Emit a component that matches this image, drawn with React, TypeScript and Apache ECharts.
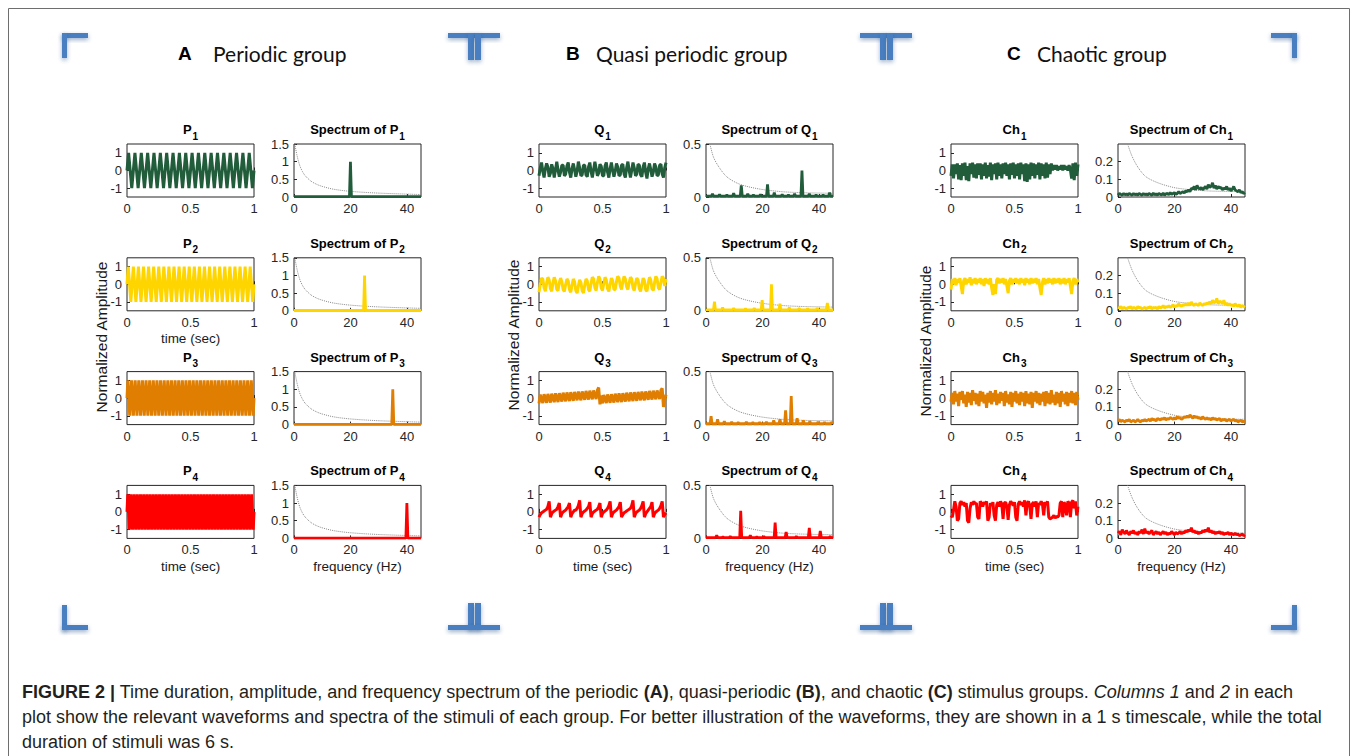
import React, { useEffect, useRef } from "react";
import * as echarts from "echarts";

// ---------------- data ----------------
const GROUP_LETTERS = ["A", "B", "C"];
const GROUP_NAMES = ["Periodic group", "Quasi periodic group", "Chaotic group"];
const SIGNAL_PREFIX = ["P", "Q", "Ch"];
const ROW_COLORS = ["#215c3b", "#ffd500", "#df7e00", "#ff0000"];

const WAVE_X_TICKS = [0, 0.5, 1];
const WAVE_Y_TICKS = [-1, 0, 1];
const WAVE_Y_RANGE = [-1.5, 1.5];
const SPEC_X_TICKS = [0, 20, 40];
const SPEC_X_MAX = 45;
const SPEC_Y_TICKS = [[0, 0.5, 1, 1.5], [0, 0.5], [0, 0.1, 0.2]];
const SPEC_Y_MAX = [1.5, 0.5, 0.3];

const X_LABEL_TIME = "time (sec)";
const X_LABEL_FREQ = "frequency (Hz)";
const Y_LABEL = "Normalized Amplitude";

// periodic waveforms (quarter-period samples over 1 s)
const P1_WAVE = [
  0,1,0,-1,0,1,0,-1,0,1,0,-1,0,1,0,-1,0,1,0,-1,
  0,1,0,-1,0,1,0,-1,0,1,0,-1,0,1,0,-1,0,1,0,-1,
  0,1,0,-1,0,1,0,-1,0,1,0,-1,0,1,0,-1,0,1,0,-1,
  0,1,0,-1,0,1,0,-1,0,1,0,-1,0,1,0,-1,0,1,0,-1,
  0];
const P2_WAVE = [
  0,1,0,-1,0,1,0,-1,0,1,0,-1,0,1,0,-1,0,1,0,-1,
  0,1,0,-1,0,1,0,-1,0,1,0,-1,0,1,0,-1,0,1,0,-1,
  0,1,0,-1,0,1,0,-1,0,1,0,-1,0,1,0,-1,0,1,0,-1,
  0,1,0,-1,0,1,0,-1,0,1,0,-1,0,1,0,-1,0,1,0,-1,
  0,1,0,-1,0,1,0,-1,0,1,0,-1,0,1,0,-1,0,1,0,-1,
  0];
const P3_WAVE = [
  0,1,0,-1,0,1,0,-1,0,1,0,-1,0,1,0,-1,0,1,0,-1,
  0,1,0,-1,0,1,0,-1,0,1,0,-1,0,1,0,-1,0,1,0,-1,
  0,1,0,-1,0,1,0,-1,0,1,0,-1,0,1,0,-1,0,1,0,-1,
  0,1,0,-1,0,1,0,-1,0,1,0,-1,0,1,0,-1,0,1,0,-1,
  0,1,0,-1,0,1,0,-1,0,1,0,-1,0,1,0,-1,0,1,0,-1,
  0,1,0,-1,0,1,0,-1,0,1,0,-1,0,1,0,-1,0,1,0,-1,
  0,1,0,-1,0,1,0,-1,0,1,0,-1,0,1,0,-1,0,1,0,-1,
  0];
const P4_WAVE = [
  0,1,0,-1,0,1,0,-1,0,1,0,-1,0,1,0,-1,0,1,0,-1,
  0,1,0,-1,0,1,0,-1,0,1,0,-1,0,1,0,-1,0,1,0,-1,
  0,1,0,-1,0,1,0,-1,0,1,0,-1,0,1,0,-1,0,1,0,-1,
  0,1,0,-1,0,1,0,-1,0,1,0,-1,0,1,0,-1,0,1,0,-1,
  0,1,0,-1,0,1,0,-1,0,1,0,-1,0,1,0,-1,0,1,0,-1,
  0,1,0,-1,0,1,0,-1,0,1,0,-1,0,1,0,-1,0,1,0,-1,
  0,1,0,-1,0,1,0,-1,0,1,0,-1,0,1,0,-1,0,1,0,-1,
  0,1,0,-1,0,1,0,-1,0,1,0,-1,0,1,0,-1,0,1,0,-1,
  0];

// quasi-periodic waveforms (samples every 10 ms)
const Q1_WAVE = [-0.3,0.15,0.45,-0.05,-0.4,0.1,0.4,0.2,-0.35,-0.15,0.35,0.1,-0.4,0.05,0.5,0.0,-0.35,-0.1,0.3,0.3,
  -0.3,-0.2,0.25,0.45,-0.1,-0.4,0.1,0.4,0.05,-0.35,-0.05,0.5,0.15,-0.3,-0.25,0.3,0.3,-0.25,-0.35,0.2,
  0.45,-0.05,-0.4,0.05,0.5,0.1,-0.3,-0.15,0.35,0.25,-0.3,-0.3,0.25,0.45,-0.1,-0.4,0.1,0.45,0.0,-0.35,
  -0.05,0.4,0.2,-0.3,-0.25,0.3,0.35,-0.2,-0.4,0.15,0.5,0.0,-0.4,0.0,0.45,0.15,-0.3,-0.2,0.35,0.3,
  -0.25,-0.35,0.2,0.45,-0.1,-0.45,0.1,0.4,0.05,-0.35,-0.1,0.4,0.2,-0.3,-0.25,0.3,0.35,-0.2,-0.4,0.15,0.45];
const Q2_WAVE = [-0.45,0.0,0.35,0.3,-0.2,-0.4,0.05,0.4,0.25,-0.25,-0.4,0.1,0.4,0.2,-0.3,-0.35,0.1,0.35,0.15,-0.3,
  -0.4,0.0,0.3,0.2,-0.3,-0.45,-0.05,0.3,0.15,-0.35,-0.5,-0.1,0.25,0.1,-0.35,-0.5,-0.05,0.3,0.2,-0.3,
  -0.4,0.05,0.4,0.3,-0.2,-0.35,0.1,0.45,0.3,-0.2,-0.35,0.05,0.4,0.25,-0.25,-0.4,0.0,0.35,0.2,-0.3,
  -0.3,0.15,0.45,0.35,-0.1,-0.3,0.15,0.45,0.3,-0.15,-0.3,0.1,0.4,0.3,-0.2,-0.35,0.05,0.35,0.25,-0.25,
  -0.4,0.0,0.35,0.2,-0.3,-0.4,0.05,0.4,0.25,-0.25,-0.35,0.1,0.45,0.3,-0.2,-0.3,0.1,0.45,0.35,-0.1,0.3];
const Q3_WAVE = [-0.3,0.2,-0.05,-0.28,0.22,0.0,-0.27,0.23,0.0,-0.25,0.25,0.02,-0.23,0.27,0.03,-0.22,0.28,0.05,-0.2,0.3,
  0.06,-0.18,0.32,0.08,-0.17,0.33,0.1,-0.15,0.35,0.11,-0.13,0.37,0.12,-0.12,0.38,0.14,-0.1,0.4,0.15,-0.08,
  0.42,0.17,-0.07,0.43,0.18,-0.05,0.45,0.6,-0.35,0.15,-0.3,0.18,-0.05,-0.28,0.2,-0.03,-0.27,0.22,0.0,-0.25,
  0.25,0.02,-0.23,0.27,0.03,-0.22,0.28,0.05,-0.2,0.3,0.06,-0.18,0.32,0.08,-0.17,0.33,0.1,-0.15,0.35,0.11,
  -0.13,0.37,0.12,-0.12,0.38,0.14,-0.1,0.4,0.15,-0.08,0.42,0.17,-0.07,0.43,0.18,-0.05,0.45,0.55,-0.5,-0.1,0.2];
const Q4_WAVE = [-0.3,-0.15,-0.05,0.0,0.05,0.1,0.15,0.3,0.6,-0.3,-0.1,0.0,0.05,0.1,0.15,0.3,0.5,-0.3,-0.1,0.0,
  0.05,0.1,0.2,0.3,0.5,-0.3,-0.1,0.0,0.1,0.1,0.2,0.35,0.65,-0.3,-0.1,0.0,0.05,0.1,0.2,0.3,
  0.55,-0.3,-0.1,0.0,0.05,0.1,0.15,0.3,0.5,-0.3,-0.1,0.0,0.05,0.1,0.2,0.35,0.6,-0.3,-0.1,0.0,
  0.05,0.1,0.2,0.3,0.55,-0.3,-0.15,-0.05,0.0,0.05,0.1,0.15,0.2,0.35,0.65,-0.3,-0.1,0.0,0.05,0.1,
  0.2,0.35,0.6,-0.3,-0.1,0.0,0.1,0.2,0.3,0.55,-0.3,-0.1,0.0,0.05,0.1,0.2,0.35,0.6,-0.3,-0.15,-0.05];

// chaotic waveforms (samples every 10 ms)
const CH1_WAVE = [-0.3,0.35,-0.45,0.35,-0.2,0.4,-0.5,0.3,-0.55,0.4,-0.3,0.45,-0.55,0.25,-0.6,0.4,-0.2,0.45,-0.4,0.35,
  -0.45,0.4,-0.25,0.4,-0.5,0.35,-0.3,0.45,-0.45,0.3,-0.35,0.45,-0.55,0.35,-0.2,0.4,-0.5,0.45,-0.3,0.35,
  -0.45,0.4,-0.2,0.45,-0.3,0.35,-0.5,0.4,-0.25,0.45,-0.45,0.35,-0.3,0.4,-0.5,0.45,-0.2,0.35,-0.6,0.4,
  -0.65,0.35,-0.5,0.45,-0.3,0.4,-0.45,0.35,-0.25,0.45,-0.5,0.4,-0.3,0.35,-0.45,0.45,-0.4,0.35,-0.2,0.4,
  0.0,0.3,0.05,0.3,0.0,0.25,0.05,0.3,0.0,0.3,0.05,0.25,0.0,0.3,0.05,-0.45,0.4,-0.55,0.45,-0.3,0.35];
const CH2_WAVE = [-0.3,0.3,0.0,0.35,-0.05,0.3,0.1,0.35,-0.1,-0.55,0.2,0.35,0.0,0.3,0.1,0.4,-0.05,0.3,0.05,0.35,
  0.0,0.3,0.1,0.35,0.0,0.3,-0.1,0.35,0.05,0.3,0.0,0.35,-0.2,-0.6,0.0,-0.55,0.25,0.35,0.05,0.3,
  0.1,0.35,0.0,0.3,-0.1,-0.5,0.2,0.35,0.0,0.3,0.1,0.35,0.05,0.3,0.0,0.35,0.1,0.3,-0.05,0.35,
  0.1,0.3,0.0,0.35,0.05,0.3,0.1,0.35,0.0,0.3,-0.2,-0.6,0.1,0.35,0.0,0.3,0.05,0.35,0.1,0.3,
  0.0,0.35,0.05,0.3,0.1,0.35,0.0,0.3,0.05,0.35,0.0,0.3,0.1,0.35,-0.1,-0.55,0.2,0.35,0.0,0.3,0.1];
const CH3_WAVE = [-0.2,0.3,-0.35,0.4,-0.2,0.25,-0.45,0.35,-0.1,0.4,-0.3,0.2,-0.5,0.35,-0.25,0.3,-0.4,0.45,-0.15,0.3,
  -0.35,0.25,-0.45,0.4,-0.2,0.35,-0.3,0.2,-0.55,0.3,-0.25,0.4,-0.35,0.3,-0.2,0.45,-0.4,0.25,-0.3,0.35,
  -0.15,0.3,-0.45,0.4,-0.25,0.2,-0.35,0.35,-0.5,0.3,-0.2,0.4,-0.3,0.25,-0.4,0.35,-0.2,0.3,-0.45,0.4,
  -0.3,0.25,-0.35,0.35,-0.55,0.3,-0.2,0.4,-0.3,0.3,-0.4,0.25,-0.2,0.35,-0.45,0.4,-0.3,0.3,-0.35,0.45,
  -0.25,0.2,-0.4,0.35,-0.3,0.3,-0.5,0.4,-0.2,0.25,-0.35,0.35,-0.45,0.3,-0.25,0.4,-0.3,0.3,-0.4,0.35,-0.1];
const CH4_WAVE = [-0.2,-0.3,0.1,0.6,0.3,-0.5,-0.4,0.5,0.6,0.4,0.55,0.3,0.5,-0.5,-0.6,0.2,0.55,0.4,0.6,0.45,
  0.5,-0.3,-0.4,0.6,0.5,0.3,0.55,0.45,0.6,-0.5,-0.3,0.5,0.35,0.55,-0.2,-0.5,0.4,0.55,0.3,0.6,
  0.45,-0.4,0.5,0.55,0.3,-0.45,0.4,0.6,0.5,0.35,0.55,-0.3,-0.5,0.45,0.6,0.4,0.55,0.3,0.65,-0.2,
  0.5,0.6,0.35,-0.4,0.45,0.55,0.3,0.6,-0.3,0.5,0.4,0.6,0.45,-0.2,0.55,0.4,0.6,-0.3,-0.4,-0.35,
  -0.3,-0.2,-0.35,-0.25,-0.3,-0.2,0.5,0.6,-0.3,0.55,0.4,-0.2,0.6,0.5,-0.3,0.55,0.65,0.2,0.6,-0.2,0.3];

// spectra: baseline level + [frequency Hz, amplitude] peaks
const A_BASE = 0.008;
const P1_PEAKS = [[20, 1.0]];
const P2_PEAKS = [[25, 1.0]];
const P3_PEAKS = [[35, 1.0]];
const P4_PEAKS = [[40, 1.0]];
const B_BASE = 0.008;
const Q1_PEAKS = [[2.3,0.03],[4.8,0.025],[7.4,0.02],[9.8,0.035],[12.5,0.11],[14.8,0.03],[16.8,0.02],[19.3,0.025],[21.8,0.12],[24.2,0.04],[27,0.025],[29.2,0.02],[31.4,0.03],[34,0.25],[36.6,0.03],[39,0.02],[41.5,0.02],[43.8,0.04]];
const Q2_PEAKS = [[3,0.085],[5.9,0.03],[9.8,0.025],[14,0.02],[17.1,0.025],[19.9,0.1],[23.2,0.25],[26.2,0.068],[29.5,0.03],[33,0.025],[36,0.02],[39.4,0.025],[43,0.074]];
const Q3_PEAKS = [[1.8,0.08],[4.1,0.05],[6.5,0.03],[9.1,0.025],[11.4,0.02],[14.3,0.025],[16.6,0.02],[19,0.02],[21.4,0.025],[24,0.04],[26.2,0.05],[28.2,0.135],[30.2,0.27],[32.3,0.06],[34.5,0.04],[36.8,0.03],[39.7,0.025],[42,0.02],[44.5,0.02]];
const Q4_PEAKS = [[3.8,0.03],[6,0.015],[8.6,0.02],[12.3,0.26],[15.7,0.03],[18,0.015],[20.5,0.02],[24.5,0.15],[28.4,0.06],[32,0.02],[36.6,0.1],[40.5,0.07],[44,0.02]];

// chaotic spectra: amplitude every 0.5 Hz from 0 to 45 Hz
const CH1_SPEC = [0.01,0.02,0.015,0.01,0.02,0.012,0.018,0.01,0.02,0.015,
  0.01,0.02,0.012,0.018,0.01,0.02,0.015,0.01,0.02,0.012,
  0.018,0.01,0.02,0.015,0.01,0.022,0.012,0.018,0.01,0.02,
  0.015,0.012,0.022,0.01,0.018,0.02,0.012,0.025,0.015,0.02,
  0.025,0.015,0.02,0.03,0.02,0.025,0.03,0.022,0.035,0.03,
  0.04,0.03,0.05,0.045,0.06,0.04,0.065,0.05,0.045,0.055,
  0.04,0.05,0.06,0.045,0.07,0.055,0.06,0.08,0.05,0.065,
  0.045,0.06,0.05,0.055,0.04,0.05,0.045,0.06,0.04,0.05,
  0.035,0.045,0.06,0.04,0.035,0.03,0.04,0.025,0.03,0.02,0.025];
const CH2_SPEC = [0.02,0.015,0.025,0.01,0.02,0.015,0.01,0.02,0.015,0.025,
  0.01,0.02,0.015,0.01,0.025,0.015,0.02,0.01,0.015,0.02,
  0.01,0.02,0.015,0.025,0.01,0.02,0.015,0.02,0.01,0.025,
  0.015,0.02,0.03,0.015,0.025,0.02,0.03,0.02,0.025,0.035,
  0.02,0.03,0.025,0.04,0.03,0.025,0.035,0.03,0.04,0.03,
  0.045,0.03,0.05,0.035,0.03,0.04,0.035,0.03,0.045,0.035,
  0.03,0.04,0.035,0.045,0.04,0.05,0.04,0.06,0.045,0.05,
  0.07,0.04,0.055,0.05,0.04,0.06,0.035,0.045,0.03,0.04,
  0.03,0.035,0.025,0.04,0.03,0.025,0.035,0.02,0.03,0.025,0.02];
const CH3_SPEC = [0.02,0.03,0.015,0.025,0.02,0.015,0.025,0.02,0.03,0.015,
  0.02,0.025,0.015,0.02,0.03,0.02,0.015,0.025,0.02,0.03,
  0.02,0.025,0.03,0.02,0.035,0.025,0.03,0.02,0.035,0.03,
  0.025,0.035,0.03,0.04,0.025,0.035,0.03,0.04,0.035,0.03,
  0.04,0.03,0.045,0.035,0.04,0.03,0.035,0.045,0.04,0.05,
  0.04,0.055,0.045,0.035,0.05,0.04,0.045,0.035,0.04,0.03,
  0.045,0.035,0.03,0.04,0.03,0.035,0.025,0.04,0.03,0.035,
  0.025,0.03,0.035,0.02,0.03,0.025,0.03,0.02,0.025,0.03,
  0.02,0.025,0.03,0.02,0.025,0.015,0.02,0.025,0.015,0.02,0.015];
const CH4_SPEC = [0.03,0.04,0.02,0.05,0.035,0.025,0.045,0.03,0.02,0.04,
  0.03,0.045,0.025,0.035,0.02,0.04,0.03,0.05,0.025,0.055,
  0.03,0.04,0.025,0.035,0.045,0.02,0.03,0.04,0.025,0.035,
  0.02,0.03,0.04,0.025,0.035,0.02,0.03,0.025,0.04,0.03,
  0.02,0.035,0.025,0.03,0.04,0.025,0.035,0.03,0.045,0.035,
  0.05,0.04,0.06,0.035,0.045,0.03,0.04,0.025,0.035,0.03,
  0.045,0.035,0.05,0.04,0.06,0.035,0.045,0.03,0.04,0.025,
  0.035,0.03,0.04,0.025,0.035,0.02,0.03,0.025,0.035,0.02,
  0.03,0.025,0.02,0.03,0.02,0.025,0.015,0.02,0.025,0.015,0.02];

// dotted reference curves [frequency Hz, amplitude]
const A_DOTTED = [[0.3,1.5],[1,1.2],[2,0.9],[3,0.72],[4,0.6],[6,0.45],[8,0.36],[10,0.3],[14,0.22],[20,0.16],[30,0.11],[45,0.07]];
const B_DOTTED = [[1.4,0.5],[2.6,0.38],[4.4,0.29],[7.4,0.19],[12,0.12],[19,0.075],[27,0.05],[35,0.04],[45,0.035]];
const C_DOTTED = [[3.4,0.3],[5,0.23],[7,0.17],[9.5,0.12],[12,0.095],[16,0.07],[21,0.05],[31,0.035],[45,0.03]];

const CAPTION_LINES = [
  "{b|FIGURE 2 |}{n| Time duration, amplitude, and frequency spectrum of the periodic }{b|(A)}{n|, quasi-periodic }{b|(B)}{n|, and chaotic }{b|(C)}{n| stimulus groups. }{i|Columns 1}{n| and }{i|2}{n| in each}",
  "{n|plot show the relevant waveforms and spectra of the stimuli of each group. For better illustration of the waveforms, they are shown in a 1 s timescale, while the total}",
  "{n|duration of stimuli was 6 s.}",
];

const WAVES = [
  [P1_WAVE, P2_WAVE, P3_WAVE, P4_WAVE],
  [Q1_WAVE, Q2_WAVE, Q3_WAVE, Q4_WAVE],
  [CH1_WAVE, CH2_WAVE, CH3_WAVE, CH4_WAVE],
];

// ---------------- layout ----------------
const FONT = '"Liberation Sans", Arial, Helvetica, sans-serif';
const WAVE_LEFT = [127, 539, 951];
const SPEC_OFFSET = 167;
const PLOT_W = 127;
const PLOT_H = 53;
const ROW_TOP = [144, 257.8, 371.6, 485.4];
const AXIS_COLOR = "#262626";

function spikes(base: number, peaks: number[][]) {
  const pts: number[][] = [[0, base]];
  peaks.forEach(([f, h]) => {
    pts.push([f - 0.35, base], [f, h], [f + 0.35, base]);
  });
  pts.push([SPEC_X_MAX, base]);
  return pts;
}
function sampled(vals: number[], span: number) {
  return vals.map((v, i) => [(i * span) / (vals.length - 1), v]);
}

const SPECS = [
  [spikes(A_BASE, P1_PEAKS), spikes(A_BASE, P2_PEAKS), spikes(A_BASE, P3_PEAKS), spikes(A_BASE, P4_PEAKS)],
  [spikes(B_BASE, Q1_PEAKS), spikes(B_BASE, Q2_PEAKS), spikes(B_BASE, Q3_PEAKS), spikes(B_BASE, Q4_PEAKS)],
  [sampled(CH1_SPEC, SPEC_X_MAX), sampled(CH2_SPEC, SPEC_X_MAX), sampled(CH3_SPEC, SPEC_X_MAX), sampled(CH4_SPEC, SPEC_X_MAX)],
];
const DOTTED = [A_DOTTED, B_DOTTED, C_DOTTED];

function axis(gridIndex: number, min: number, max: number, ticks: number[]) {
  return {
    type: "value",
    gridIndex,
    min,
    max,
    axisLine: { show: false },
    splitLine: { show: false },
    axisTick: { show: true, inside: true, length: 3, customValues: ticks, lineStyle: { color: AXIS_COLOR, width: 1 } },
    axisLabel: { show: true, customValues: ticks, color: AXIS_COLOR, fontSize: 13, fontFamily: FONT, margin: 5 },
  };
}

function buildOption() {
  const grid: any[] = [];
  const xAxis: any[] = [];
  const yAxis: any[] = [];
  const series: any[] = [];
  const graphic: any[] = [];

  // frame
  graphic.push({
    type: "rect",
    shape: { x: 8.5, y: 8.5, width: 1341, height: 800 },
    style: { fill: "none", stroke: "#6e6e6e", lineWidth: 1 },
    z: 0,
  });

  // brackets
  const bracketRects = [
    [62, 33, 26, 5], [62, 33, 5, 25],
    [448, 33, 52, 5], [468, 33, 6, 27], [475, 33, 6, 27],
    [860, 33, 52, 5], [880, 33, 6, 27], [887, 33, 6, 27],
    [1271, 33, 26, 5], [1292, 33, 5, 25],
    [62, 605, 5, 25], [62, 625, 26, 5],
    [468, 603, 6, 27], [475, 603, 6, 27], [448, 625, 52, 5],
    [880, 603, 6, 27], [887, 603, 6, 27], [860, 625, 52, 5],
    [1292, 605, 5, 25], [1271, 625, 26, 5],
  ];
  bracketRects.forEach(([x, y, w, h]) => {
    graphic.push({
      type: "rect",
      shape: { x, y, width: w, height: h },
      style: {
        fill: "#4a7fc1",
        shadowBlur: 4,
        shadowColor: "rgba(40,80,140,0.45)",
        shadowOffsetY: 2,
      },
      z: 5,
    });
  });

  const headerX = [[178, 213], [566, 596], [1007, 1037]];

  for (let g = 0; g < 3; g++) {
    // group header
    graphic.push({
      type: "text",
      x: headerX[g][0],
      y: 53,
      style: { text: GROUP_LETTERS[g], fontSize: 19, fontWeight: "bold", fontFamily: FONT, fill: "#000", align: "left", verticalAlign: "middle" },
      z: 10,
    });
    graphic.push({
      type: "text",
      x: headerX[g][1],
      y: 53,
      style: { text: GROUP_NAMES[g], fontSize: 21, fontFamily: "Lato, 'Open Sans', sans-serif", fill: "#111", align: "left", verticalAlign: "middle" },
      z: 10,
    });
    // y label
    graphic.push({
      type: "text",
      x: WAVE_LEFT[g] - 26,
      y: [337, 335, 341][g],
      rotation: Math.PI / 2,
      style: { text: Y_LABEL, fontSize: 15.5, fontFamily: FONT, fill: "#1a1a1a", align: "center", verticalAlign: "middle" },
      z: 10,
    });

    for (let r = 0; r < 4; r++) {
      const waveIdx = grid.length;
      const wl = WAVE_LEFT[g];
      const sl = WAVE_LEFT[g] + SPEC_OFFSET;
      const top = ROW_TOP[r];
      grid.push({ left: wl, top, width: PLOT_W, height: PLOT_H, show: true, borderColor: AXIS_COLOR, borderWidth: 1, backgroundColor: "#fff" });
      grid.push({ left: sl, top, width: PLOT_W, height: PLOT_H, show: true, borderColor: AXIS_COLOR, borderWidth: 1, backgroundColor: "#fff" });
      const specIdx = waveIdx + 1;
      xAxis.push(axis(waveIdx, 0, 1, WAVE_X_TICKS));
      yAxis.push(axis(waveIdx, WAVE_Y_RANGE[0], WAVE_Y_RANGE[1], WAVE_Y_TICKS));
      xAxis.push(axis(specIdx, 0, SPEC_X_MAX, SPEC_X_TICKS));
      yAxis.push(axis(specIdx, 0, SPEC_Y_MAX[g], SPEC_Y_TICKS[g]));

      series.push({
        type: "line",
        xAxisIndex: waveIdx,
        yAxisIndex: waveIdx,
        data: sampled(WAVES[g][r], 1),
        symbol: "none",
        lineStyle: { color: ROW_COLORS[r], width: 3 },
        silent: true,
        z: 3,
      });
      series.push({
        type: "line",
        xAxisIndex: specIdx,
        yAxisIndex: specIdx,
        data: DOTTED[g],
        symbol: "none",
        smooth: 0.3,
        lineStyle: { color: "#8a8a8a", width: 1, type: "dotted" },
        silent: true,
        z: 2,
      });
      series.push({
        type: "line",
        xAxisIndex: specIdx,
        yAxisIndex: specIdx,
        data: SPECS[g][r],
        symbol: "none",
        lineStyle: { color: ROW_COLORS[r], width: 2.8 },
        silent: true,
        z: 3,
      });

      // titles
      const rich = {
        m: { fontSize: 13, fontWeight: "bold", fontFamily: FONT, fill: "#000", lineHeight: 15, verticalAlign: "top" },
        s: { fontSize: 10, fontWeight: "bold", fontFamily: FONT, fill: "#000", lineHeight: 11, padding: [8, 0, 0, 1], verticalAlign: "top" },
      };
      graphic.push({
        type: "text",
        x: wl + PLOT_W / 2,
        y: top - 21,
        style: { text: `{m|${SIGNAL_PREFIX[g]}}{s|${r + 1}}`, rich, align: "center", verticalAlign: "top" },
        z: 10,
      });
      graphic.push({
        type: "text",
        x: sl + PLOT_W / 2,
        y: top - 21,
        style: { text: `{m|Spectrum of ${SIGNAL_PREFIX[g]}}{s|${r + 1}}`, rich, align: "center", verticalAlign: "top" },
        z: 10,
      });

      // axis names
      const timeLabel = (g === 0 && r === 1) || r === 3;
      if (timeLabel) {
        graphic.push({
          type: "text",
          x: wl + PLOT_W / 2,
          y: top + PLOT_H + 28,
          style: { text: X_LABEL_TIME, fontSize: 13.5, fontFamily: FONT, fill: "#1a1a1a", align: "center", verticalAlign: "middle" },
          z: 10,
        });
      }
      if (r === 3) {
        graphic.push({
          type: "text",
          x: sl + PLOT_W / 2,
          y: top + PLOT_H + 28,
          style: { text: X_LABEL_FREQ, fontSize: 13.5, fontFamily: FONT, fill: "#1a1a1a", align: "center", verticalAlign: "middle" },
          z: 10,
        });
      }
    }
  }

  // caption
  graphic.push({
    type: "text",
    x: 22,
    y: 679,
    style: {
      text: CAPTION_LINES.join("\n"),
      align: "left",
      verticalAlign: "top",
      rich: {
        n: { fontSize: 18, fontFamily: FONT, fill: "#231f20", lineHeight: 25 },
        b: { fontSize: 18, fontFamily: FONT, fontWeight: "bold", fill: "#231f20", lineHeight: 25 },
        i: { fontSize: 18, fontFamily: FONT, fontStyle: "italic", fill: "#231f20", lineHeight: 25 },
      },
    },
    z: 10,
  });

  return {
    animation: false,
    backgroundColor: "#ffffff",
    grid,
    xAxis,
    yAxis,
    series,
    graphic: { elements: graphic },
  };
}

export default function App() {
  const ref = useRef<HTMLDivElement>(null);
  useEffect(() => {
    if (!ref.current) return;
    const chart = echarts.init(ref.current, undefined, { renderer: "svg" });
    chart.setOption(buildOption() as any);
    return () => chart.dispose();
  }, []);
  return (
    <div
      ref={ref}
      style={{ position: "fixed", left: 0, top: 0, width: 1357, height: 756, background: "#fff" }}
    />
  );
}
